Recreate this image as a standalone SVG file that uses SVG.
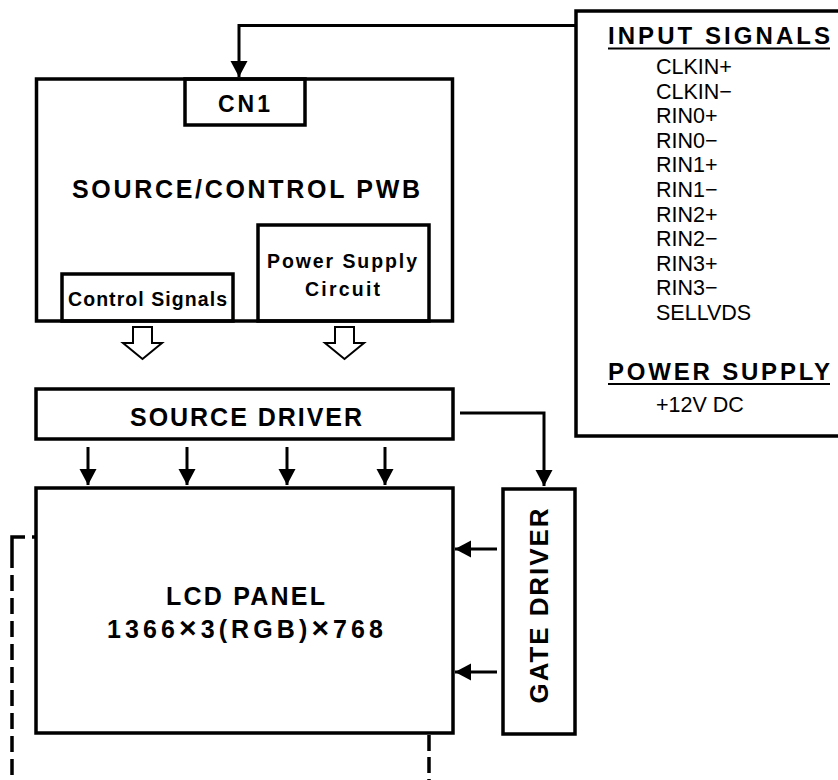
<svg xmlns="http://www.w3.org/2000/svg" width="838" height="780" viewBox="0 0 838 780">
<style>
.box{fill:none;stroke:#000;stroke-width:3.5}
.hd{font-family:"Liberation Sans",Arial,sans-serif;font-weight:bold;fill:#000}
.lst{font-family:"Liberation Sans",Arial,sans-serif;font-size:21.5px;fill:#000}
.ln{fill:none;stroke:#000;stroke-width:3}
.hollow{fill:#fff;stroke:#000;stroke-width:2;stroke-linejoin:miter}
.dash{fill:none;stroke:#000;stroke-width:3.5}
</style>
<defs>
<marker id="ah" markerUnits="userSpaceOnUse" markerWidth="18" markerHeight="18" refX="16" refY="8.5" orient="auto">
<path d="M0,0 L16,8.5 L0,17 Z" fill="#000"/>
</marker>
</defs>
<rect x="0" y="0" width="838" height="780" fill="#fff"/>

<g id="input-signals">
<rect class="box" x="576" y="11" width="300" height="425"/>
<text class="hd" x="608" y="44" font-size="24" textLength="222" lengthAdjust="spacing">INPUT SIGNALS</text>
<line x1="608" y1="48.5" x2="830" y2="48.5" stroke="#000" stroke-width="2"/>
<text class="lst" x="656" y="74">CLKIN+</text>
<text class="lst" x="656" y="98.6">CLKIN−</text>
<text class="lst" x="656" y="123.2">RIN0+</text>
<text class="lst" x="656" y="147.8">RIN0−</text>
<text class="lst" x="656" y="172.4">RIN1+</text>
<text class="lst" x="656" y="197">RIN1−</text>
<text class="lst" x="656" y="221.6">RIN2+</text>
<text class="lst" x="656" y="246.2">RIN2−</text>
<text class="lst" x="656" y="270.8">RIN3+</text>
<text class="lst" x="656" y="295.4">RIN3−</text>
<text class="lst" x="656" y="320">SELLVDS</text>
<text class="hd" x="608" y="380" font-size="24" textLength="222" lengthAdjust="spacing">POWER SUPPLY</text>
<line x1="608" y1="384" x2="830" y2="384" stroke="#000" stroke-width="2"/>
<text class="lst" x="656" y="412">+12V DC</text>
</g>

<g id="source-control-pwb">
<rect class="box" x="36.5" y="79" width="416" height="242"/>
<text class="hd" x="72" y="198" font-size="25" textLength="348" lengthAdjust="spacing">SOURCE/CONTROL PWB</text>
</g>

<g id="cn1">
<rect class="box" x="185" y="79" width="120" height="46"/>
<text class="hd" x="218" y="112" font-size="23" textLength="52" lengthAdjust="spacing">CN1</text>
</g>

<g id="power-supply-circuit">
<rect class="box" x="258" y="225" width="171" height="96"/>
<text class="hd" x="267" y="268" font-size="19.5" textLength="150" lengthAdjust="spacing">Power Supply</text>
<text class="hd" x="305" y="296" font-size="19.5" textLength="75" lengthAdjust="spacing">Circuit</text>
</g>

<g id="control-signals">
<rect class="box" x="62" y="274" width="171" height="47"/>
<text class="hd" x="68" y="306" font-size="19.5" textLength="159" lengthAdjust="spacing">Control Signals</text>
</g>

<g id="source-driver">
<rect class="box" x="36" y="389" width="417" height="50"/>
<text class="hd" x="130" y="426" font-size="25" textLength="232" lengthAdjust="spacing">SOURCE DRIVER</text>
</g>

<g id="lcd-panel">
<rect class="box" x="36" y="488" width="417" height="245"/>
<text class="hd" x="166" y="605" font-size="25" textLength="159" lengthAdjust="spacing">LCD PANEL</text>
<text class="hd" x="107" y="638" font-size="25" textLength="276" lengthAdjust="spacing">1366<tspan font-size="30">×</tspan>3(RGB)<tspan font-size="30">×</tspan>768</text>
</g>

<g id="gate-driver">
<rect class="box" x="503" y="489" width="72" height="245"/>
<text class="hd" transform="translate(548,606) rotate(-90)" x="0" y="0" text-anchor="middle" font-size="26" textLength="195" lengthAdjust="spacing">GATE DRIVER</text>
</g>

<g id="connectors">
<path class="ln" d="M576,25.5 H239 V77" marker-end="url(#ah)"/>
<path class="hollow" d="M133,327 H152 V343 H162 L142.5,359 L123,343 H133 Z"/>
<path class="hollow" d="M335,327 H354 V343 H364 L344.5,359 L325,343 H335 Z"/>
<path class="ln" d="M460,413 H544 V486" marker-end="url(#ah)"/>
<line class="ln" x1="88" y1="447" x2="88" y2="485" marker-end="url(#ah)"/>
<line class="ln" x1="187" y1="447" x2="187" y2="485" marker-end="url(#ah)"/>
<line class="ln" x1="287" y1="447" x2="287" y2="485" marker-end="url(#ah)"/>
<line class="ln" x1="385" y1="447" x2="385" y2="485" marker-end="url(#ah)"/>
<line class="ln" x1="497" y1="549" x2="455" y2="549" marker-end="url(#ah)"/>
<line class="ln" x1="497" y1="672" x2="455" y2="672" marker-end="url(#ah)"/>
<path class="dash" d="M36,537 H32 M25,537 H12 V568"/>
<path class="dash" d="M12,575 V780" stroke-dasharray="16 7"/>
<path class="dash" d="M429,735 V780" stroke-dasharray="16 6"/>
</g>
</svg>
